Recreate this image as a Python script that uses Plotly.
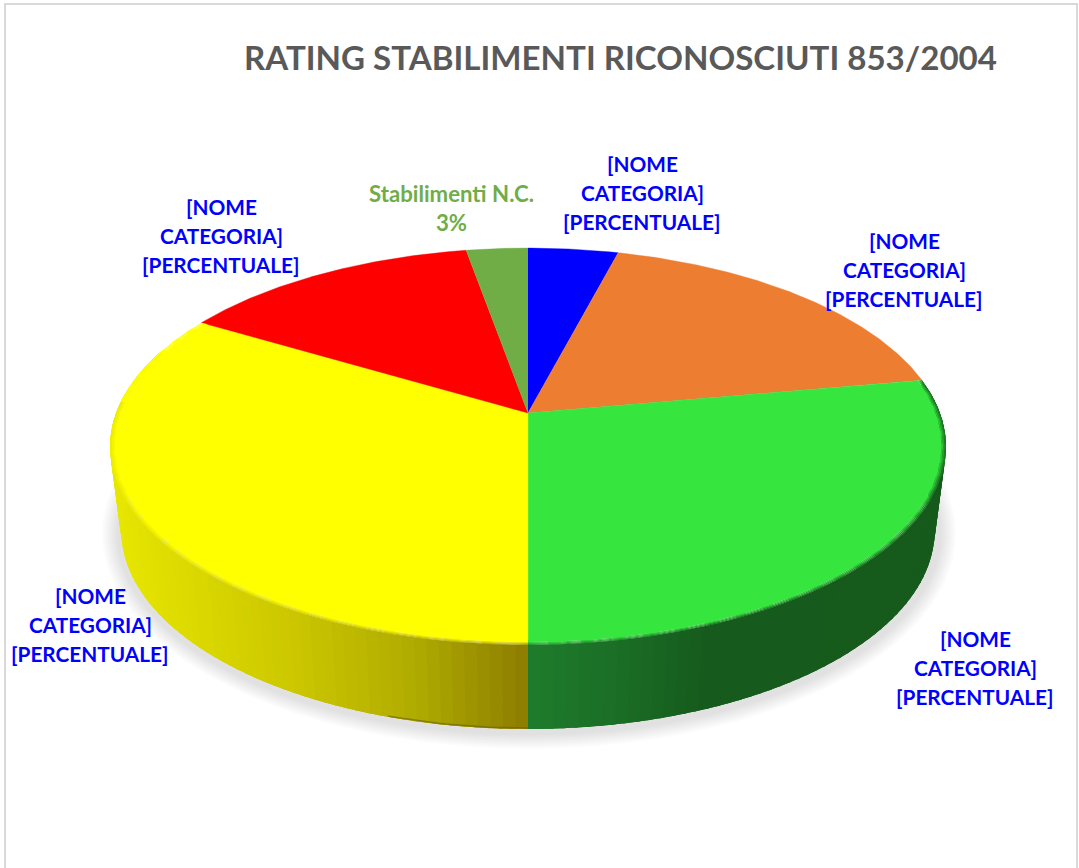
import numpy as np
import plotly.graph_objects as go

# ---- data -----------------------------------------------------------------
categories = ["Blu", "Arancione", "Verde", "Giallo", "Rosso", "Stabilimenti N.C."]
shares = [4.1, 18.1, 27.8, 33.5, 13.7, 2.8]
slice_colors = ["#0000ff", "#ed7d31", "#36e63f", "#ffff00", "#ff0000", "#70ad47"]
title_text = "RATING STABILIMENTI RICONOSCIUTI 853/2004"
label_lines = [
    ["[NOME", "CATEGORIA]", "[PERCENTUALE]"],
    ["[NOME", "CATEGORIA]", "[PERCENTUALE]"],
    ["[NOME", "CATEGORIA]", "[PERCENTUALE]"],
    ["[NOME", "CATEGORIA]", "[PERCENTUALE]"],
    ["[NOME", "CATEGORIA]", "[PERCENTUALE]"],
    ["Stabilimenti N.C.", "3%"],
]
label_centres = [(642, 163.5), (904, 240.5), (975, 638.5), (90, 595.5), (221, 206.5), (451, 193.5)]
label_colors = ["#0000ff"] * 5 + ["#70ad47"]
label_sizes = [20.8] * 5 + [22.2]

# side shading: slice index -> (screen x, rgb) stops
side_ramps = {
    2: [(528, (31, 125, 45)), (620, (27, 110, 38)), (700, (22, 92, 30)), (950, (22, 90, 28))],
    3: [(110, (232, 232, 0)), (300, (203, 198, 0)), (420, (175, 170, 0)), (528, (140, 125, 0))],
}
top_rgb = {2: (54, 230, 63), 3: (255, 255, 0)}

# ---- projection of the tilted disc on the page ------------------------------
CX, APEX_Y, AX, BY, K = 528.0, 413.0, 412.0, 192.8, 0.169
DEPTH, BOTTOM_SHRINK = 84.0, 0.973


def rim(deg, scale=1.0, drop=0.0, shrink=1.0):
    t = np.radians(np.asarray(deg, dtype=float))
    X, Y = scale * np.sin(t), scale * np.cos(t)
    w = 1 + K * Y
    return CX + AX * shrink * X / w, APEX_Y + drop - BY * Y / w


def rgb(c):
    return f"rgb({int(c[0])},{int(c[1])},{int(c[2])})"


def ramp(stops, x):
    xs = [s[0] for s in stops]
    return [np.interp(x, xs, [s[1][i] for s in stops]) for i in range(3)]


fig = go.Figure()


def poly(x, y, color, width=0.0):
    fig.add_trace(go.Scatter(x=list(x), y=list(y), mode="lines", fill="toself",
                             fillcolor=color, line=dict(color=color, width=width),
                             hoverinfo="skip", showlegend=False))


edges = np.concatenate([[0], np.cumsum(shares)]) / sum(shares) * 360

# soft shadow under the disc
ring = np.linspace(0, 360, 181)
for step in range(10):
    sx, sy = rim(ring, drop=DEPTH, shrink=BOTTOM_SHRINK)
    sx2 = CX + 1 + (sx - CX) * (1.05 - step * 0.004)
    mid = (sy.max() + sy.min()) / 2
    sy2 = mid + 3 + (sy - mid) * (1.085 - step * 0.0075)
    poly(sx2, sy2, "rgba(0,0,0,0.013)")

# side wall: narrow shaded strips, each overlapping the next one to hide seams
for i in side_ramps:
    lo, hi = max(edges[i], 70), min(edges[i + 1], 290)
    cuts = np.linspace(lo, hi, int((hi - lo) / 1.5) + 2)
    for a, b in zip(cuts[:-1], cuts[1:]):
        far = min(b + 2.0, hi)
        arc_t = np.array([a, (a + far) / 2, far])
        tx, ty = rim(arc_t)
        bx, by = rim(arc_t[::-1], drop=DEPTH, shrink=BOTTOM_SHRINK)
        mx = (rim(a)[0] + rim(b)[0] + rim(a, drop=DEPTH, shrink=BOTTOM_SHRINK)[0]
              + rim(b, drop=DEPTH, shrink=BOTTOM_SHRINK)[0]) / 4
        poly(np.r_[tx, bx], np.r_[ty, by], rgb(ramp(side_ramps[i], mx)))

# dark lower edge of the yellow wall
lx, ly = rim(np.linspace(180, 197, 20), drop=DEPTH - 1, shrink=BOTTOM_SHRINK)
fig.add_trace(go.Scatter(x=list(lx), y=list(ly), mode="lines",
                         line=dict(color="rgba(110,95,0,0.6)", width=1.5),
                         hoverinfo="skip", showlegend=False))

# top face of the slices without a visible wall, and base of the others
for i, color in enumerate(slice_colors):
    t = np.linspace(edges[i], edges[i + 1], max(int(edges[i + 1] - edges[i]) * 2, 4))
    x, y = rim(t)
    if i in side_ramps:
        x, y = rim(t, scale=0.985)
    poly(np.r_[CX, x], np.r_[APEX_Y, y], color, 0.4)

# soft bevel: rings of the top face blending into the wall colour
bevel = [(1.000, 0.25), (0.9965, 0.5), (0.993, 0.75), (0.9895, 1.0)]
for i in side_ramps:
    lo, hi = edges[i], edges[i + 1]
    cuts = np.linspace(lo, hi, int((hi - lo) / 4) + 2)
    front_end = 272.0
    for a, b in zip(cuts[:-1], cuts[1:]):
        mid_x = rim((a + b) / 2)[0]
        wall = ramp(side_ramps[i], mid_x)
        far = min(b + 1.5, hi)
        t = np.linspace(a, far, 5)
        for (s0, f), s1 in zip(bevel, [b_[0] for b_ in bevel[1:]] + [0.98]):
            use = f if (a + b) / 2 < front_end else 1.0
            c = [wall[k] + (top_rgb[i][k] - wall[k]) * use for k in range(3)]
            ox, oy = rim(t, scale=s0)
            ix, iy = rim(t[::-1], scale=s1)
            poly(np.r_[ox, ix], np.r_[oy, iy], rgb(c))

annotations = [dict(x=620.5, y=57, xref="x", yref="y", text=f"<b>{title_text}</b>", showarrow=False,
                    font=dict(family="Lato", size=33.1, color="#595959"))]
for lines, (cx, cy), col, fs in zip(label_lines, label_centres, label_colors, label_sizes):
    for n, line in enumerate(lines):
        annotations.append(dict(x=cx, y=cy + n * 29, xref="x", yref="y", text=f"<b>{line}</b>",
                                showarrow=False, font=dict(family="Lato", size=fs, color=col)))

fig.update_layout(
    width=1079, height=868, margin=dict(l=0, r=0, t=0, b=0),
    paper_bgcolor="white", plot_bgcolor="white", showlegend=False,
    xaxis=dict(range=[0, 1079], visible=False, fixedrange=True),
    yaxis=dict(range=[868, 0], visible=False, fixedrange=True),
    annotations=annotations,
    shapes=[dict(type="rect", xref="x", yref="y", x0=5, y0=4, x1=1077, y1=900,
                 line=dict(color="#d9d9d9", width=2), layer="below")],
)

fig.write_html("out.html", config=dict(displayModeBar=False),
               post_script="document.body.style.margin='0';document.body.style.overflow='hidden';")
